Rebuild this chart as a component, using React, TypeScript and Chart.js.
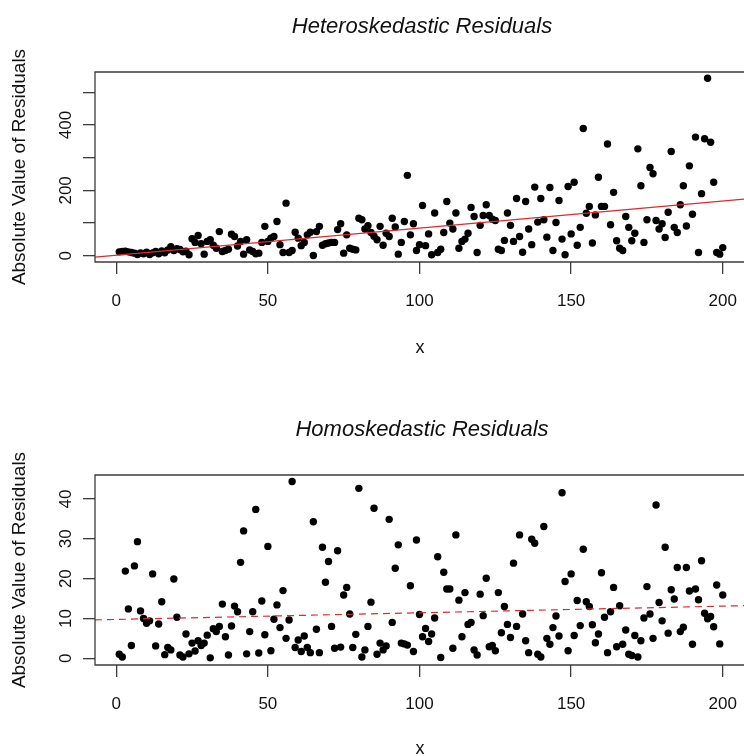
import React, { useEffect, useRef } from "react";
import { Chart, registerables } from "chart.js";

Chart.register(...registerables);

const FONT = '"Liberation Sans", Arial, Helvetica, sans-serif';

// x positions 1..200 (observation index)
const xIndex: number[] = Array.from({ length: 200 }, (_, i) => i + 1);

// Heteroskedastic absolute residuals
const heteroValues: number[] = [
  12, 13, 14, 12, 10, 8, 4, 9, 6, 11,
  4, 9, 13, 6, 15, 9, 18, 28, 16, 22,
  19, 12, 14, 3, 52, 41, 62, 37, 5, 44,
  49, 32, 23, 74, 13, 16, 20, 66, 59, 30,
  44, 5, 49, 18, 13, 6, 8, 41, 90, 44,
  54, 59, 105, 34, 10, 161, 10, 16, 72, 54,
  31, 41, 64, 72, 1, 74, 90, 32, 37, 39,
  41, 41, 80, 98, 8, 64, 23, 20, 18, 115,
  110, 82, 92, 71, 60, 49, 90, 32, 69, 59,
  115, 88, 5, 41, 105, 246, 64, 98, 16, 34,
  154, 31, 67, 3, 131, 10, 20, 71, 166, 100,
  82, 131, 23, 44, 51, 69, 148, 120, 10, 93,
  123, 156, 123, 112, 108, 20, 16, 47, 131, 93,
  44, 175, 59, 11, 166, 82, 34, 210, 103, 175,
  110, 57, 209, 16, 102, 169, 51, 3, 212, 67,
  225, 32, 87, 389, 130, 151, 39, 125, 240, 151,
  151, 342, 95, 194, 46, 23, 16, 120, 87, 46,
  69, 327, 214, 41, 110, 270, 251, 108, 82, 98,
  56, 133, 319, 87, 71, 156, 214, 91, 275, 127,
  363, 10, 190, 358, 543, 347, 225, 10, 5, 25,
];

// Homoskedastic absolute residuals
const homoValues: number[] = [
  1.0, 0.3, 21.9, 12.4, 3.2, 23.2, 29.3, 11.9, 10.0, 8.8,
  9.4, 21.2, 3.1, 8.6, 14.2, 0.9, 2.7, 2.1, 19.9, 10.3,
  0.8, 0.3, 6.1, 1.1, 3.8, 1.8, 4.4, 3.2, 3.8, 5.8,
  0.1, 7.4, 6.7, 8.0, 13.6, 5.4, 0.8, 8.1, 13.1, 11.7,
  24.1, 32.0, 1.1, 6.7, 11.7, 37.4, 1.3, 14.4, 5.9, 28.1,
  1.9, 9.8, 13.4, 7.7, 17.0, 5.0, 9.6, 44.4, 2.7, 4.6,
  1.7, 5.6, 2.7, 1.4, 34.3, 7.3, 1.4, 27.9, 19.1, 24.3,
  8.0, 2.5, 27.0, 2.8, 15.9, 17.8, 11.1, 2.7, 6.0, 42.7,
  0.3, 2.1, 8.0, 14.1, 37.7, 1.0, 3.8, 2.1, 3.1, 34.9,
  9.0, 22.6, 28.5, 3.8, 3.6, 3.3, 18.2, 1.7, 29.7, 11.0,
  5.4, 7.5, 4.2, 6.1, 10.1, 25.5, 0.2, 21.6, 17.4, 17.4,
  2.5, 31.0, 14.6, 5.4, 16.5, 8.5, 9.0, 2.1, 0.8, 16.1,
  10.7, 20.1, 2.9, 3.2, 1.9, 16.5, 6.4, 13.0, 8.5, 5.2,
  23.9, 8.0, 31.0, 11.1, 4.4, 1.4, 29.9, 28.9, 1.0, 0.3,
  33.1, 5.0, 3.5, 7.7, 10.6, 5.6, 41.6, 19.3, 1.9, 21.2,
  5.7, 14.5, 8.2, 27.4, 14.2, 13.0, 8.4, 3.9, 6.1, 21.5,
  10.3, 1.4, 11.7, 17.8, 2.9, 13.2, 3.5, 7.1, 1.0, 0.7,
  5.7, 0.3, 4.4, 10.1, 18.0, 11.1, 5.0, 38.5, 14.0, 9.4,
  27.9, 6.3, 17.2, 14.9, 22.8, 6.7, 7.8, 22.8, 16.9, 3.5,
  17.4, 14.7, 24.5, 11.3, 9.9, 10.5, 7.9, 18.4, 3.6, 15.9,
];

// fitted regression lines (end points at the plot region edges)
const fitX: number[] = [-7, 207];
const heteroFitY: number[] = [-4.3, 173.3];
const homoFitY: number[] = [9.63, 13.21];

// axes
const xTicks: number[] = [0, 50, 100, 150, 200];
const heteroYTicks: number[] = [0, 100, 200, 300, 400, 500];
const heteroYLabels: number[] = [0, 200, 400];
const homoYTicks: number[] = [0, 10, 20, 30, 40];
const homoYLabels: number[] = [0, 10, 20, 30, 40];

const X_MIN = -7;
const X_MAX = 207;
const PANEL_H = 378;

const decorPlugin = {
  id: "decor",
  afterDraw(chart: any, _args: any, opts: any) {
    const { ctx, chartArea: a } = chart;
    ctx.save();
    // box (top, left, bottom)
    ctx.strokeStyle = "#3c3c3c";
    ctx.lineWidth = 1.3;
    ctx.beginPath();
    ctx.moveTo(a.right + 5, a.top);
    ctx.lineTo(a.left, a.top);
    ctx.lineTo(a.left, a.bottom);
    ctx.lineTo(a.right + 5, a.bottom);
    ctx.stroke();

    ctx.fillStyle = "#111";
    ctx.textAlign = "center";
    ctx.textBaseline = "middle";

    // y tick labels, rotated like R (las = 0)
    const ys = chart.scales.y;
    ctx.font = `17px ${FONT}`;
    for (const v of opts.yLabels) {
      const py = ys.getPixelForValue(v);
      ctx.save();
      ctx.translate(opts.yLabelX, py);
      ctx.rotate(-Math.PI / 2);
      ctx.fillText(String(v), 0, 0);
      ctx.restore();
    }

    // y axis title
    ctx.font = `19px ${FONT}`;
    ctx.save();
    ctx.translate(opts.yTitleX, (a.top + a.bottom) / 2);
    ctx.rotate(-Math.PI / 2);
    ctx.fillText(opts.yTitle, 0, 0);
    ctx.restore();

    // x axis title
    ctx.font = `18px ${FONT}`;
    ctx.fillText(opts.xTitle, opts.xTitleX, opts.xTitleY);

    // main title
    ctx.font = `italic 22px ${FONT}`;
    ctx.fillText(opts.title, opts.titleX, opts.titleY);
    ctx.restore();
  },
};

type PanelProps = {
  title: string;
  values: number[];
  fitY: number[];
  dashed: boolean;
  yMin: number;
  yMax: number;
  yTicks: number[];
  yLabels: number[];
  plotTop: number;
  plotBottom: number;
  titleY: number;
  xTitleY: number;
};

function Panel(p: PanelProps) {
  const ref = useRef<HTMLCanvasElement | null>(null);
  useEffect(() => {
    if (!ref.current) return;
    const gridOpts = {
      drawOnChartArea: false,
      drawTicks: true,
      tickLength: 12,
      color: "#3c3c3c",
      lineWidth: 1.3,
    };
    const chart = new Chart(ref.current, {
      type: "scatter",
      data: {
        datasets: [
          {
            data: fitX.map((x, i) => ({ x, y: p.fitY[i] })),
            showLine: true,
            borderColor: "rgb(226, 40, 45)",
            borderWidth: 1.2,
            borderDash: p.dashed ? [7, 5] : [],
            pointRadius: 0,
            fill: false,
          },
          {
            data: xIndex.map((x, i) => ({ x, y: p.values[i] })),
            backgroundColor: "#000",
            borderColor: "#000",
            borderWidth: 0,
            pointRadius: 3.7,
          },
        ],
      },
      options: {
        responsive: false,
        maintainAspectRatio: false,
        animation: false,
        events: [],
        layout: {
          autoPadding: false,
          padding: { top: p.plotTop, left: 0, right: 0, bottom: 0 },
        },
        plugins: {
          legend: { display: false },
          tooltip: { enabled: false },
          title: { display: false },
          decor: {
            title: p.title,
            titleX: 422,
            titleY: p.titleY,
            xTitle: "x",
            xTitleX: 420,
            xTitleY: p.xTitleY,
            yTitle: "Absolute Value of Residuals",
            yTitleX: 20,
            yLabelX: 66,
            yLabels: p.yLabels,
          },
        } as any,
        scales: {
          x: {
            type: "linear",
            min: X_MIN,
            max: X_MAX,
            afterBuildTicks: (s: any) => {
              s.ticks = xTicks.map((v) => ({ value: v }));
            },
            afterFit: (s: any) => {
              s.height = PANEL_H - p.plotBottom;
              s.paddingLeft = 0;
              s.paddingRight = 0;
            },
            grid: gridOpts,
            border: { display: false },
            ticks: {
              padding: 17,
              color: "#111",
              font: { family: FONT, size: 17 },
              maxRotation: 0,
              minRotation: 0,
              autoSkip: false,
              callback: (v: any) => String(v),
            },
          },
          y: {
            type: "linear",
            min: p.yMin,
            max: p.yMax,
            afterBuildTicks: (s: any) => {
              s.ticks = p.yTicks.map((v) => ({ value: v }));
            },
            afterFit: (s: any) => {
              s.width = 95;
              s.paddingTop = 0;
              s.paddingBottom = 0;
            },
            grid: gridOpts,
            border: { display: false },
            ticks: { display: false },
          },
        },
      } as any,
      plugins: [decorPlugin],
    });
    return () => chart.destroy();
  }, []);
  return (
    <canvas
      ref={ref}
      width={744}
      height={PANEL_H}
      style={{ display: "block", width: 744, height: PANEL_H }}
    />
  );
}

export default function App() {
  useEffect(() => {
    document.body.style.margin = "0";
    document.body.style.background = "#fff";
  }, []);
  return (
    <div style={{ width: 744, height: 756, background: "#fff", margin: 0 }}>
      <Panel
        title="Heteroskedastic Residuals"
        values={heteroValues}
        fitY={heteroFitY}
        dashed={false}
        yMin={-19}
        yMax={562}
        yTicks={heteroYTicks}
        yLabels={heteroYLabels}
        plotTop={72}
        plotBottom={262}
        titleY={27}
        xTitleY={348}
      />
      <Panel
        title="Homoskedastic Residuals"
        values={homoValues}
        fitY={homoFitY}
        dashed={true}
        yMin={-1.7}
        yMax={46.05}
        yTicks={homoYTicks}
        yLabels={homoYLabels}
        plotTop={97}
        plotBottom={287}
        titleY={52}
        xTitleY={371}
      />
    </div>
  );
}
